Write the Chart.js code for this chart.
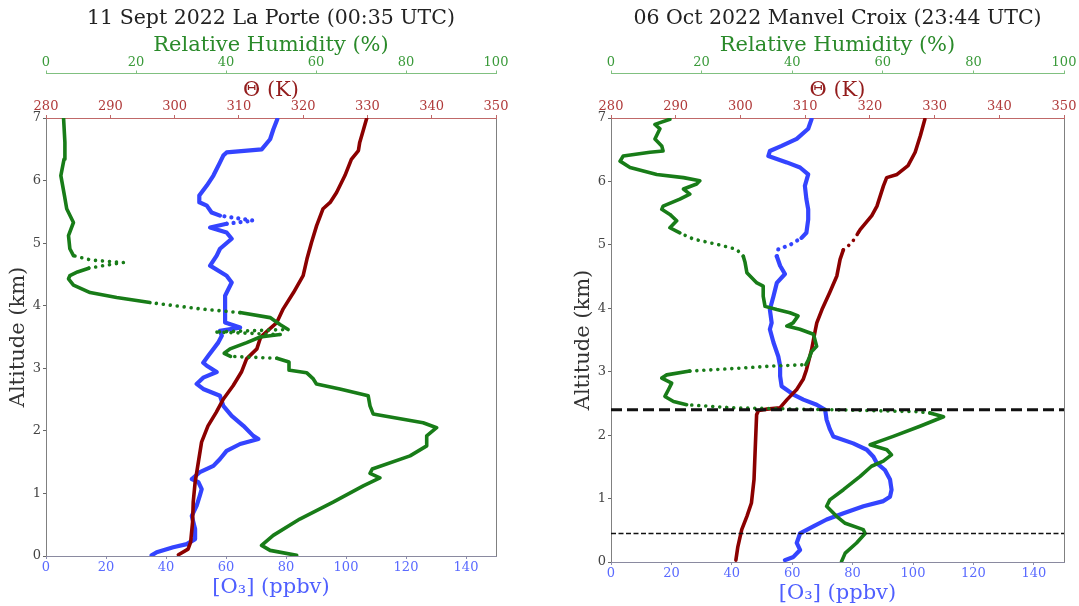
<!DOCTYPE html>
<html>
<head>
<meta charset="utf-8">
<script src="https://cdn.jsdelivr.net/npm/chart.js@4.4.0/dist/chart.umd.min.js"></script>
<style>
  html, body { margin: 0; padding: 0; background: #ffffff; }
  #wrap { position: relative; width: 1079px; height: 606px; overflow: hidden; background: #ffffff; }
  #wrap canvas { position: absolute; top: 0; }
</style>
</head>
<body>
<div id="wrap">
  <canvas id="laPorte" width="540" height="606" style="left:0px"></canvas>
  <canvas id="manvel" width="539" height="606" style="left:540px"></canvas>
</div>
<script>
// ---- Tick values and axis ranges ----
const altitudeTicks = [0, 1, 2, 3, 4, 5, 6, 7];
const o3Ticks = [0, 20, 40, 60, 80, 100, 120, 140];
const thetaTicks = [280, 290, 300, 310, 320, 330, 340, 350];
const rhTicks = [0, 20, 40, 60, 80, 100];
const altitudeRange = [0, 7];
const o3Range = [0, 150];
const thetaRange = [280, 350];
const rhRange = [0, 100];

// ---- 11 Sept 2022, La Porte sonde profile ----
const laPorteO3Alt = [0.01, 0.06, 0.14, 0.19, 0.27, 0.43, 0.64, 0.80, 0.97, 1.07, 1.18, 1.23, 1.34, 1.44, 1.55, 1.68, 1.79, 1.87, 1.92, 2.08, 2.24, 2.40, 2.56, 2.67, 2.75, 2.85, 2.94, 3.04, 3.09, 3.20, 3.31, 3.41, 3.52, 3.60, 3.65, 3.73, 3.95, 4.16, 4.37, 4.48, 4.64, 4.80, 4.91, 5.07, 5.17, 5.25, 5.31, 5.36, 5.44, 5.49, 5.60, 5.65, 5.76, 5.92, 6.08, 6.29, 6.40, 6.45, 6.50, 6.66, 6.82, 6.98];
const laPorteO3 = [35.2, 36.9, 42.4, 46.9, 49.7, 49.7, 48.6, 50.2, 51.3, 51.9, 50.8, 48.6, 51.3, 55.8, 58.0, 60.2, 64.7, 70.8, 69.1, 65.8, 61.9, 59.1, 58.0, 52.4, 50.2, 52.4, 56.9, 53.6, 52.4, 54.1, 55.8, 57.4, 58.6, 58.0, 64.7, 59.7, 59.7, 59.7, 61.9, 60.2, 54.7, 56.9, 58.0, 61.9, 60.2, 54.7, 60.2, 69.1, 58.0, 55.2, 53.6, 51.3, 51.1, 53.6, 55.8, 58.0, 59.1, 60.2, 71.9, 74.7, 75.8, 77.1];
const laPorteO3Sparse = [[5.30, 5.45]];

const laPorteThetaAlt = [0.02, 0.11, 0.22, 0.54, 0.86, 1.18, 1.50, 1.82, 2.08, 2.30, 2.51, 2.72, 2.94, 3.15, 3.31, 3.47, 3.52, 3.63, 3.73, 3.95, 4.21, 4.48, 4.75, 5.01, 5.28, 5.55, 5.65, 5.81, 6.08, 6.34, 6.48, 6.61, 6.82, 7.00];
const laPorteTheta = [300.6, 302.1, 302.5, 302.8, 302.9, 303.2, 303.7, 304.2, 305.2, 306.5, 307.6, 309.1, 310.4, 311.2, 312.8, 313.3, 313.6, 314.8, 315.9, 316.9, 318.5, 320.0, 320.6, 321.3, 322.1, 323.1, 324.2, 325.2, 326.5, 327.5, 328.6, 328.8, 329.4, 329.9];

const laPorteRhAlt = [0.01, 0.09, 0.17, 0.33, 0.59, 0.86, 1.12, 1.25, 1.32, 1.39, 1.60, 1.76, 1.92, 2.05, 2.13, 2.27, 2.40, 2.56, 2.67, 2.75, 2.83, 2.93, 2.97, 3.10, 3.16, 3.19, 3.24, 3.31, 3.41, 3.50, 3.54, 3.58, 3.62, 3.70, 3.81, 3.89, 3.95, 4.05, 4.13, 4.21, 4.33, 4.43, 4.48, 4.54, 4.60, 4.65, 4.69, 4.73, 4.80, 4.91, 5.12, 5.33, 5.55, 5.76, 6.08, 6.34, 6.61, 7.00];
const laPorteRh = [55.7, 49.8, 47.9, 50.5, 56.4, 63.8, 70.5, 74.2, 72.0, 72.5, 80.9, 84.6, 84.6, 86.8, 83.8, 72.7, 72.0, 71.6, 65.3, 60.1, 59.4, 57.9, 54.2, 54.0, 51.3, 41.0, 39.6, 40.9, 44.6, 47.6, 52.0, 37.5, 53.8, 52.0, 49.8, 43.1, 34.2, 23.1, 15.7, 9.8, 6.1, 5.0, 5.3, 7.0, 9.5, 13.5, 17.2, 10.0, 6.1, 5.3, 5.0, 6.1, 4.6, 4.1, 3.3, 4.0, 4.2, 3.9];
const laPorteRhSparse = [[4.59, 4.81], [3.88, 4.06], [3.53, 3.63], [3.15, 3.20]];

// ---- 06 Oct 2022, Manvel Croix sonde profile ----
const manvelO3Alt = [0.03, 0.08, 0.19, 0.30, 0.45, 0.56, 0.67, 0.77, 0.88, 0.96, 1.03, 1.14, 1.30, 1.45, 1.56, 1.66, 1.77, 1.87, 1.98, 2.09, 2.24, 2.40, 2.48, 2.56, 2.64, 2.77, 2.93, 3.09, 3.24, 3.46, 3.67, 3.77, 3.98, 4.19, 4.40, 4.54, 4.67, 4.82, 4.93, 5.00, 5.11, 5.19, 5.40, 5.56, 5.72, 5.93, 6.11, 6.22, 6.30, 6.40, 6.48, 6.56, 6.67, 6.83, 6.98];
const manvelO3 = [57.6, 60.4, 62.6, 61.5, 62.6, 67.0, 71.4, 77.0, 83.6, 90.2, 92.4, 92.9, 92.4, 90.7, 88.0, 86.9, 84.7, 80.2, 73.6, 72.5, 71.4, 70.9, 68.1, 63.7, 60.4, 56.5, 56.0, 56.0, 55.4, 53.8, 52.6, 53.2, 52.6, 53.8, 54.9, 57.6, 56.0, 54.9, 55.4, 59.3, 63.1, 64.7, 65.3, 65.3, 64.7, 64.2, 65.3, 62.6, 58.2, 52.1, 52.6, 56.5, 61.5, 65.3, 66.4];
const manvelO3Sparse = [[4.81, 5.12]];

const manvelThetaAlt = [0.03, 0.24, 0.51, 0.72, 0.93, 1.30, 1.82, 2.32, 2.39, 2.41, 2.43, 2.56, 2.72, 2.88, 3.03, 3.35, 3.51, 3.67, 3.77, 3.98, 4.25, 4.51, 4.77, 4.92, 5.03, 5.19, 5.24, 5.46, 5.61, 5.93, 6.06, 6.11, 6.25, 6.46, 6.72, 6.98];
const manvelTheta = [299.3, 299.6, 300.2, 301.0, 301.7, 302.1, 302.3, 302.5, 302.8, 304.1, 306.1, 307.2, 308.7, 309.7, 310.2, 311.0, 311.3, 311.6, 311.8, 312.6, 313.8, 314.9, 315.4, 315.9, 317.2, 318.2, 318.5, 320.3, 321.1, 322.1, 322.6, 324.2, 325.9, 327.0, 327.8, 328.5];
const manvelThetaSparse = [[4.91, 5.20]];

const manvelRhAlt = [0.01, 0.14, 0.30, 0.45, 0.51, 0.61, 0.72, 0.88, 0.98, 1.14, 1.35, 1.51, 1.59, 1.69, 1.77, 1.85, 1.98, 2.14, 2.29, 2.35, 2.37, 2.40, 2.43, 2.48, 2.53, 2.61, 2.72, 2.82, 2.90, 2.95, 3.01, 3.05, 3.09, 3.11, 3.19, 3.32, 3.40, 3.59, 3.67, 3.72, 3.77, 3.88, 3.93, 3.98, 4.03, 4.19, 4.35, 4.40, 4.56, 4.72, 4.82, 4.93, 5.01, 5.09, 5.19, 5.27, 5.38, 5.48, 5.56, 5.61, 5.72, 5.80, 5.88, 5.96, 6.01, 6.06, 6.11, 6.22, 6.32, 6.40, 6.46, 6.48, 6.56, 6.67, 6.83, 6.90, 6.98];
const manvelRh = [50.9, 51.7, 54.2, 56.1, 55.7, 51.7, 49.8, 47.6, 48.3, 51.3, 55.0, 57.5, 60.1, 61.9, 60.9, 57.2, 62.3, 68.2, 73.4, 70.4, 67.5, 49.1, 27.0, 16.7, 13.8, 11.9, 12.7, 13.4, 11.2, 12.3, 17.4, 27.0, 35.8, 43.0, 43.6, 44.3, 45.4, 44.7, 41.7, 38.8, 40.2, 41.3, 39.5, 36.6, 34.0, 33.6, 33.6, 32.2, 30.0, 29.6, 29.2, 27.7, 23.3, 18.2, 15.2, 13.0, 14.5, 13.0, 11.2, 11.5, 15.2, 17.4, 16.0, 18.9, 19.6, 16.0, 10.1, 4.2, 2.0, 2.7, 8.6, 11.5, 11.2, 9.7, 10.8, 9.7, 13.0];
const manvelRhSparse = [[4.75, 5.20], [3.00, 3.12], [2.34, 2.49]];

// Altitudes (km) of the two marked layer boundaries
const manvelLayerTops = [2.4, 0.45];

// ---- Styling ----
const SERIF = '"DejaVu Serif", "Liberation Serif", serif';
const O3_COLOR = '#3444ff';
const THETA_COLOR = '#8b0000';
const RH_COLOR = '#187c18';

function fixedTicks(values) {
  return scale => { scale.ticks = values.map(v => ({ value: v })); };
}

function profileDataset(label, alts, values, axisID, color, width, order, sparseBands) {
  const data = alts.map((a, i) => ({ x: values[i], y: a }));
  const inSparse = ctx => {
    const a = data[ctx.p0DataIndex].y;
    const b = data[ctx.p1DataIndex].y;
    return (sparseBands || []).some(([lo, hi]) => a >= lo && a <= hi && b >= lo && b <= hi);
  };
  return {
    label, data, xAxisID: axisID, yAxisID: 'y', showLine: true,
    borderColor: color, backgroundColor: color, borderWidth: width,
    pointRadius: 0, pointHoverRadius: 0, pointHitRadius: 0,
    borderJoinStyle: 'round', borderCapStyle: 'round', tension: 0, order,
    segment: { borderDash: ctx => (inSparse(ctx) ? [0.01, 7] : undefined) }
  };
}

function layerLine(alt, width, dash) {
  return {
    label: 'layer ' + alt, xAxisID: 'o3', yAxisID: 'y', showLine: true,
    data: [{ x: o3Range[0], y: alt }, { x: o3Range[1], y: alt }],
    borderColor: '#111111', borderWidth: width, borderDash: dash,
    borderCapStyle: 'butt', pointRadius: 0, pointHitRadius: 0, order: 0
  };
}

function buildPanel(canvasId, p) {
  return new Chart(document.getElementById(canvasId), {
    type: 'scatter',
    data: { datasets: p.datasets },
    options: {
      responsive: false, animation: false, devicePixelRatio: 1,
      layout: { padding: { left: 0, right: p.rightPad, top: 0, bottom: 0 } },
      plugins: {
        legend: { display: false },
        tooltip: { enabled: false },
        title: {
          display: true, text: p.title, fullSize: false, color: '#222222',
          font: { family: SERIF, size: 20.5, weight: 'normal', lineHeight: 1.2 },
          padding: { top: 6.4, bottom: 0 }
        }
      },
      scales: {
        y: {
          type: 'linear', position: 'left', min: altitudeRange[0], max: altitudeRange[1],
          afterBuildTicks: fixedTicks(altitudeTicks),
          afterFit: s => { s.width = p.yWidth; },
          ticks: { color: '#444444', font: { family: SERIF, size: 13 }, padding: 2 },
          grid: { drawOnChartArea: false, drawTicks: true, tickLength: 3, color: '#666666' },
          border: { color: '#808080', width: 1 },
          title: {
            display: true, text: 'Altitude (km)', color: '#333333',
            font: { family: SERIF, size: 21, lineHeight: 1.2 },
            padding: { top: p.yTitlePad, bottom: 0 }
          }
        },
        yEdge: {
          type: 'linear', axis: 'y', position: 'right', min: altitudeRange[0], max: altitudeRange[1],
          afterFit: s => { s.width = 0; },
          ticks: { display: false },
          grid: { display: false },
          border: { color: '#808080', width: 1 }
        },
        o3: {
          type: 'linear', axis: 'x', position: 'bottom', min: o3Range[0], max: o3Range[1],
          afterBuildTicks: fixedTicks(o3Ticks),
          afterFit: s => { s.height = p.bottomHeight; },
          ticks: { color: '#5a6aff', font: { family: SERIF, size: 13 }, padding: p.bottomTickPad, maxRotation: 0 },
          grid: { drawOnChartArea: false, drawTicks: true, tickLength: 3, color: '#8c8cb4' },
          border: { color: '#8a8aa0', width: 1 },
          title: {
            display: true, text: '[O\u2083] (ppbv)', color: '#4f5fff',
            font: { family: SERIF, size: 21, lineHeight: 1.2 },
            padding: { top: 0, bottom: p.bottomTitlePad }
          }
        },
        theta: {
          type: 'linear', axis: 'x', position: 'top', weight: 0, min: thetaRange[0], max: thetaRange[1],
          afterBuildTicks: fixedTicks(thetaTicks),
          afterFit: s => { s.height = 44.5; },
          ticks: { color: '#b03a3a', font: { family: SERIF, size: 13 }, padding: 0.7, maxRotation: 0 },
          grid: { drawOnChartArea: false, drawTicks: true, tickLength: 3, color: '#c06868' },
          border: { color: '#c06868', width: 1 },
          title: {
            display: true, text: '\u0398 (K)', color: '#931c1c',
            font: { family: SERIF, size: 21, lineHeight: 1.2 },
            padding: { top: 4.4, bottom: 0 }
          }
        },
        rh: {
          type: 'linear', axis: 'x', position: 'top', weight: 1, min: rhRange[0], max: rhRange[1],
          afterBuildTicks: fixedTicks(rhTicks),
          afterFit: s => { s.height = 42.5; },
          ticks: { color: '#3a9a3a', font: { family: SERIF, size: 13 }, padding: 0.2, maxRotation: 0 },
          grid: { drawOnChartArea: false, drawTicks: true, tickLength: 3, color: '#80c080' },
          border: { color: '#80c080', width: 1 },
          title: {
            display: true, text: 'Relative Humidity (%)', color: '#2a8a2a',
            font: { family: SERIF, size: 21, lineHeight: 1.2 },
            padding: { top: 1.9, bottom: 0 }
          }
        }
      }
    }
  });
}

buildPanel('laPorte', {
  title: '11 Sept 2022 La Porte (00:35 UTC)',
  rightPad: 44, yWidth: 46, yTitlePad: 5.7,
  bottomHeight: 50, bottomTickPad: 1.2, bottomTitlePad: 5.4,
  datasets: [
    profileDataset('[O3]', laPorteO3Alt, laPorteO3, 'o3', O3_COLOR, 4.2, 3, laPorteO3Sparse),
    profileDataset('Theta', laPorteThetaAlt, laPorteTheta, 'theta', THETA_COLOR, 3.6, 2, []),
    profileDataset('RH', laPorteRhAlt, laPorteRh, 'rh', RH_COLOR, 3.6, 1, laPorteRhSparse)
  ]
});

buildPanel('manvel', {
  title: '06 Oct 2022 Manvel Croix (23:44 UTC)',
  rightPad: 15, yWidth: 71, yTitlePad: 31.4,
  bottomHeight: 44, bottomTickPad: 0.5, bottomTitlePad: 0,
  datasets: [
    profileDataset('[O3]', manvelO3Alt, manvelO3, 'o3', O3_COLOR, 4.2, 3, manvelO3Sparse),
    profileDataset('Theta', manvelThetaAlt, manvelTheta, 'theta', THETA_COLOR, 3.6, 2, manvelThetaSparse),
    profileDataset('RH', manvelRhAlt, manvelRh, 'rh', RH_COLOR, 3.6, 1, manvelRhSparse),
    layerLine(manvelLayerTops[0], 3, [11, 5]),
    layerLine(manvelLayerTops[1], 1.5, [5, 2.5])
  ]
});
</script>
</body>
</html>
